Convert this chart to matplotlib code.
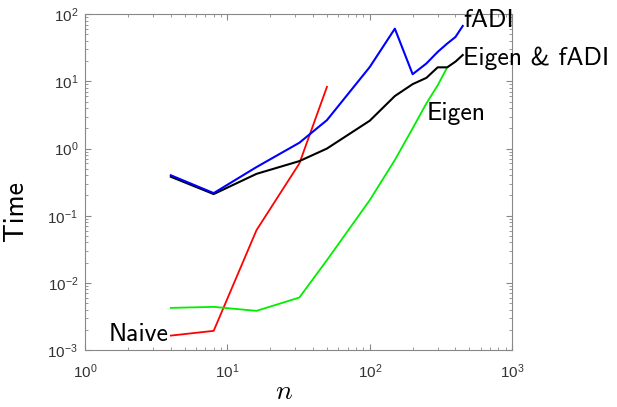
import numpy as np
import matplotlib
matplotlib.use("Agg")
import matplotlib.pyplot as plt

#-- Data
n = [4, 8, 16, 32, 50, 100, 150, 200, 250, 300, 350, 400, 450]
fadi = [0.40, 0.217, 0.53, 1.22, 2.65, 16.4, 61.0, 12.8, 18.5, 27.5, 36.6, 45.9, 67.0]
eigenFadi = [0.38, 0.21, 0.42, 0.65, 1.0, 2.6, 6.05, 9.1, 11.3, 16.2, 16.2, 19.7, 24.7]
nEigen = [4, 8, 16, 32, 50, 100, 150, 200, 250, 300, 350]
eigen = [0.00424, 0.00439, 0.00383, 0.00605, 0.0218, 0.171, 0.675, 2.0, 4.72, 8.75, 16.2]
nNaive = [4, 8, 16, 32, 50]
naive = [0.00164, 0.00193, 0.061, 0.60, 8.3]

plt.rcParams['font.family'] = ['Liberation Sans', 'DejaVu Sans']
plt.rcParams['mathtext.fontset'] = 'cm'

fig = plt.figure(figsize=(6.17, 4.07), dpi=100)
ax = fig.add_axes([0.138, 0.14, 0.692, 0.825])

ax.plot(nNaive, naive, color='#ff0000', lw=1.3)
ax.plot(nEigen, eigen, color='#00ee00', lw=1.3)
ax.plot(n, eigenFadi, color='black', lw=1.5)
ax.plot(n, fadi, color='#0000ff', lw=1.5)

ax.set_xscale('log')
ax.set_yscale('log')
ax.set_xlim(1, 1000)
ax.set_ylim(1e-3, 1e2)

# labels at the line ends (computer modern sans, like the original)
lab = dict(fontsize=18.5, family='cmss10', color='black', clip_on=False,
           textcoords='offset points', va='baseline')
ax.annotate('fADI', (n[-1], fadi[-1]), xytext=(0, -1), ha='left', **lab)
ax.annotate('Eigen & fADI', (n[-1], eigenFadi[-1]), xytext=(0, -7), ha='left', **lab)
ax.annotate('Eigen', (nEigen[8], eigen[8]), xytext=(0, -12), ha='left', **lab)
ax.annotate('Naive', (nNaive[0], naive[0]), xytext=(-1.5, -3.6), ha='right', **lab)

ax.set_ylabel('Time', fontsize=20, family='cmss10')
ax.yaxis.set_label_coords(-0.133, 0.414)
ax.set_xlabel('$n$', fontsize=20)
ax.xaxis.set_label_coords(0.466, -0.085)

for s in ax.spines.values():
    s.set_color('#888888')
    s.set_linewidth(0.8)
ax.tick_params(which='both', direction='in', top=True, right=True,
               colors='#888888', labelcolor='#333333', labelsize=11)
ax.tick_params(which='major', length=4)
ax.tick_params(which='minor', length=2)
ax.tick_params(axis='x', pad=9)
ax.tick_params(axis='y', pad=5)

fig.savefig('out.png', dpi=100)
